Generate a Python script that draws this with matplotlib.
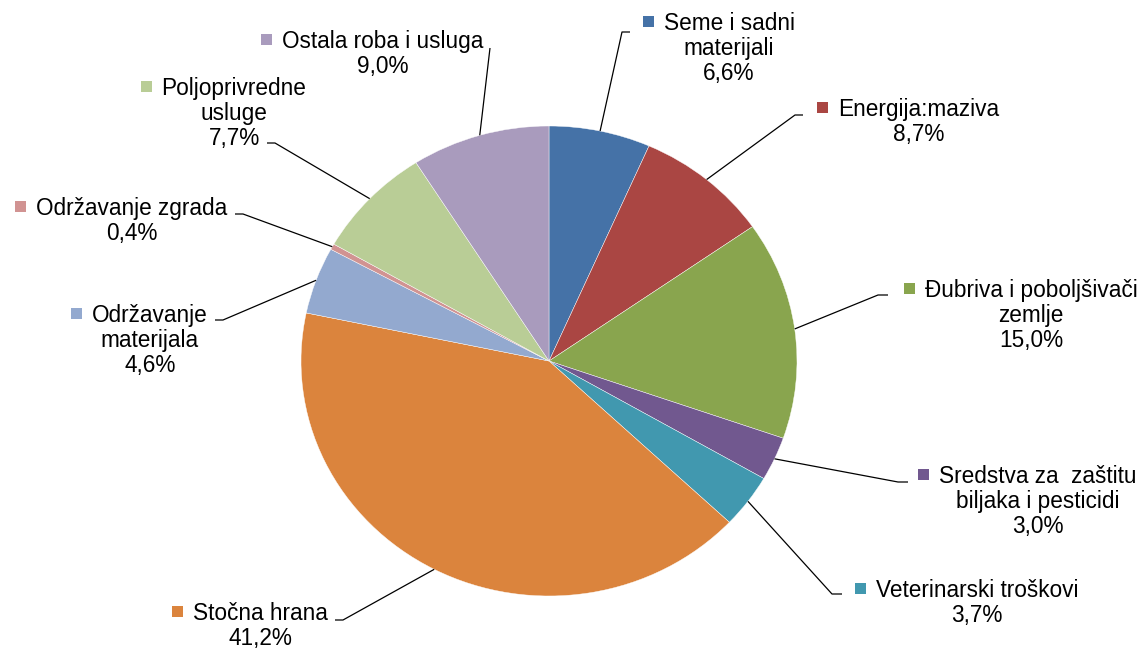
import matplotlib
matplotlib.use("Agg")
import matplotlib.pyplot as plt
from matplotlib.patches import Rectangle
import numpy as np

# ---- data ----
categories = [
    "Seme i sadni\nmaterijali",
    "Energija:maziva",
    "Đubriva i poboljšivači\nzemlje",
    "Sredstva za  zaštitu\nbiljaka i pesticidi",
    "Veterinarski troškovi",
    "Stočna hrana",
    "Održavanje\nmaterijala",
    "Održavanje zgrada",
    "Poljoprivredne\nusluge",
    "Ostala roba i usluga",
]
values = [6.6, 8.7, 15.0, 3.0, 3.7, 41.2, 4.6, 0.4, 7.7, 9.0]
colors = ["#4572A7", "#AA4643", "#89A54E", "#71588F", "#4198AF",
          "#DB843D", "#93A9CF", "#D19392", "#B9CD96", "#A99BBD"]

# ---- layout (pixels, origin top-left) ----
# (text centre x, first baseline y, elbow point, line end point)
label_layout = [
    (729, 30, (622, 32), (630, 32)),
    (919, 116, (795, 115), (803, 115)),
    (1031, 297, (878, 295), (888, 295)),
    (1038, 483, (898, 482), (908, 482)),
    (977, 597, (832, 594), (842, 594)),
    (260, 620, (343, 620), (335, 620)),
    (150, 322, (223, 320), (215, 320)),
    (132, 215, (243, 214), (235, 214)),
    (234, 95, (275, 143), (267, 143)),
    (383, 48, (490, 48), (490, 48)),
]

W, H = 1142, 648
plt.rcParams['font.family'] = ['Liberation Sans', 'DejaVu Sans']
FS = 16.3
LINE = 25

fig = plt.figure(figsize=(W / 100, H / 100), dpi=100)
fig.patch.set_facecolor("white")

# pie axes: ellipse bounding box 301..797 x, 126..596 y
pl, pr, pt, pb = 301, 797, 126, 596
axp = fig.add_axes([pl / W, (H - pb) / H, (pr - pl) / W, (pb - pt) / H])
wedges, _ = axp.pie(values, colors=colors, startangle=90, counterclock=False,
                    radius=1.0, wedgeprops=dict(linewidth=0.3, edgecolor="white"))
axp.set_aspect("auto")
axp.set_xlim(-1, 1)
axp.set_ylim(-1, 1)
axp.axis("off")

# overlay axes in pixel coordinates
ov = fig.add_axes([0, 0, 1, 1], zorder=5)
ov.set_xlim(0, W)
ov.set_ylim(H, 0)
ov.axis("off")
ov.patch.set_alpha(0)

fig.canvas.draw()
renderer = fig.canvas.get_renderer()

for w, cat, v, col, (cx, b0, elbow, end) in zip(wedges, categories, values, colors, label_layout):
    # leader line start at wedge mid-angle on edge
    mid = np.deg2rad((w.theta1 + w.theta2) / 2)
    disp = axp.transData.transform((np.cos(mid), np.sin(mid)))
    sx, sy = ov.transData.inverted().transform(disp)
    ov.plot([sx, elbow[0], end[0]], [sy, elbow[1], end[1]], color="black", lw=0.9,
            solid_capstyle="butt", clip_on=False)

    lines = cat.split("\n") + [f"{v:.1f}%".replace(".", ",")]
    texts = []
    for i, ln in enumerate(lines):
        t = ov.text(cx, b0 + i * LINE, ln, ha="center", va="baseline",
                    fontsize=FS, color="black")
        texts.append(t)
    bb = texts[0].get_window_extent(renderer=renderer)
    left_px = bb.x0  # display coords; overlay is 1:1 in x
    sq = 11
    ov.add_patch(Rectangle((left_px - 10 - sq, b0 - 3 - sq), sq, sq,
                           facecolor=col, edgecolor="none", clip_on=False))

fig.savefig("out.png", dpi=100, facecolor="white")
